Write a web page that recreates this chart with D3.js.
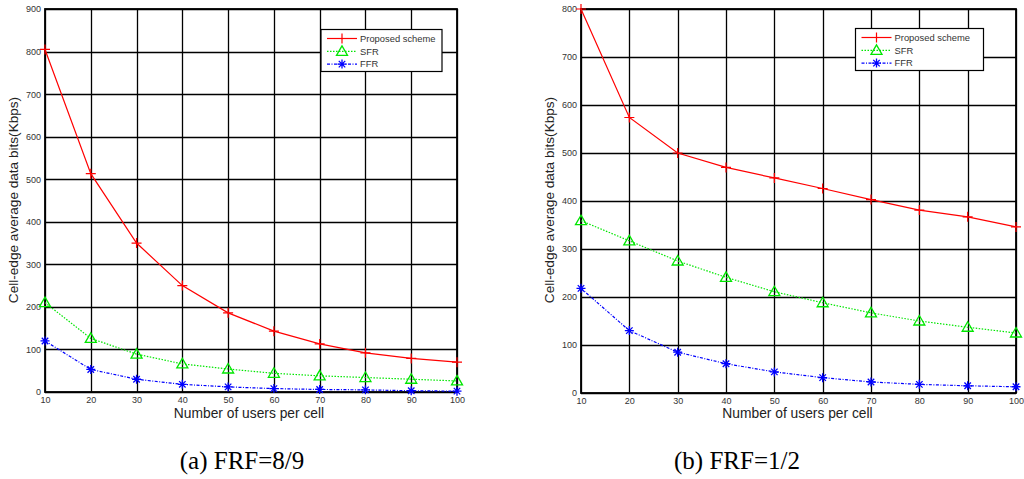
<!DOCTYPE html>
<html>
<head>
<meta charset="utf-8">
<script src="https://cdn.jsdelivr.net/npm/d3@7/dist/d3.min.js"></script>
<style>
  html, body { margin: 0; padding: 0; background: #fff; }
  svg { display: block; }
</style>
</head>
<body>
<svg id="chart" width="1024" height="479"></svg>
<script>
// ---- Data ----
const users = [10, 20, 30, 40, 50, 60, 70, 80, 90, 100];
const xTicks = [10, 20, 30, 40, 50, 60, 70, 80, 90, 100];
const seriesNames = ["Proposed scheme", "SFR", "FFR"];

// Panel (a) FRF=8/9
const proposedA = [805, 513, 350, 250, 186, 143, 113, 92, 79, 70];
const sfrA      = [210, 126, 89, 66, 54, 44, 38, 34, 30, 26];
const ffrA      = [120, 53, 30, 18, 12, 8, 6, 5, 3, 2];
const yTicksA   = [0, 100, 200, 300, 400, 500, 600, 700, 800, 900];

// Panel (b) FRF=1/2
const proposedB = [800, 574, 500, 470, 448, 426, 403, 381, 367, 346];
const sfrB      = [359, 317, 275, 241, 211, 188, 167, 150, 137, 125];
const ffrB      = [218, 130, 85, 61, 44, 32, 23, 18, 15, 13];
const yTicksB   = [0, 100, 200, 300, 400, 500, 600, 700, 800];

const captions = ["(a) FRF=8/9", "(b) FRF=1/2"];
const xLabel = "Number of users per cell";
const yLabel = "Cell-edge average data bits(Kbps)";

// ---- Drawing ----
const svg = d3.select("#chart");
const styles = [
  { color: "#ff0000", dash: null, marker: "plus" },
  { color: "#00e600", dash: "1.5,1.5", marker: "triangle" },
  { color: "#0000ff", dash: "3,1.5,1,1.5", marker: "star" }
];

function drawMarker(g, type, x, y, color) {
  if (type === "plus") {
    g.append("path").attr("d", `M${x-5},${y}H${x+5}M${x},${y-5}V${y+5}`)
      .attr("stroke", color).attr("stroke-width", 1.2).attr("fill", "none");
  } else if (type === "triangle") {
    g.append("path").attr("d", `M${x},${y-5.5}L${x+5.5},${y+4}L${x-5.5},${y+4}Z`)
      .attr("stroke", color).attr("stroke-width", 1.3).attr("fill", "none");
  } else {
    const r = 4.5, d = r * 0.72;
    g.append("path").attr("d",
      `M${x-r},${y}H${x+r}M${x},${y-r}V${y+r}M${x-d},${y-d}L${x+d},${y+d}M${x-d},${y+d}L${x+d},${y-d}`)
      .attr("stroke", color).attr("stroke-width", 1.3).attr("fill", "none");
  }
}

function panel(cfg) {
  const x = d3.scaleLinear().domain([10, 100]).range([cfg.left, cfg.right]);
  const y = d3.scaleLinear().domain([0, cfg.yMax]).range([cfg.bottom, cfg.top]);
  const g = svg.append("g");

  // grid
  const grid = g.append("g");
  grid.selectAll("line.vx").data(xTicks).enter().append("line")
    .attr("x1", d => Math.round(x(d)) + 0.5).attr("x2", d => Math.round(x(d)) + 0.5)
    .attr("y1", cfg.top).attr("y2", cfg.bottom)
    .attr("stroke", "#000").attr("stroke-width", 1.3);
  grid.selectAll("line.hy").data(cfg.yTicks).enter().append("line")
    .attr("y1", d => Math.round(y(d)) + 0.5).attr("y2", d => Math.round(y(d)) + 0.5)
    .attr("x1", cfg.left).attr("x2", cfg.right)
    .attr("stroke", "#000").attr("stroke-width", 1.3);

  // frame
  g.append("rect").attr("x", cfg.left).attr("y", cfg.top)
    .attr("width", cfg.right - cfg.left).attr("height", cfg.bottom - cfg.top)
    .attr("fill", "none").attr("stroke", "#000").attr("stroke-width", 1.8);

  // axes tick labels via d3 axes
  const xAxis = d3.axisBottom(x).tickValues(xTicks).tickSize(0).tickPadding(5);
  const yAxis = d3.axisLeft(y).tickValues(cfg.yTicks).tickSize(0).tickPadding(4);
  const gx = g.append("g").attr("transform", `translate(0,${cfg.bottom})`).call(xAxis);
  const gy = g.append("g").attr("transform", `translate(${cfg.left},0)`).call(yAxis);
  [gx, gy].forEach(a => {
    a.select(".domain").remove();
    a.selectAll("text").attr("font-family", "Liberation Sans, Arial, sans-serif")
      .attr("font-size", 9).attr("fill", "#333");
  });

  // lines
  const line = d3.line().x((d, i) => x(users[i])).y(d => y(d));
  cfg.series.forEach((vals, si) => {
    const st = styles[si];
    g.append("path").datum(vals).attr("d", line)
      .attr("fill", "none").attr("stroke", st.color).attr("stroke-width", 1.2)
      .attr("stroke-dasharray", st.dash);
    vals.forEach((v, i) => drawMarker(g, st.marker, x(users[i]), y(v), st.color));
  });

  // axis labels
  g.append("text").attr("x", (cfg.left + cfg.right) / 2 + cfg.xLabDx).attr("y", 418)
    .attr("text-anchor", "middle").attr("font-family", "Liberation Sans, Arial, sans-serif")
    .attr("font-size", 13.8).attr("fill", "#222").text(xLabel);
  g.append("text").attr("transform", `translate(${cfg.yLabX},200) rotate(-90)`)
    .attr("text-anchor", "middle").attr("font-family", "Liberation Sans, Arial, sans-serif")
    .attr("font-size", 13.6).attr("fill", "#222").text(yLabel);

  // legend
  const L = cfg.legend;
  g.append("rect").attr("x", L.x).attr("y", L.y).attr("width", L.w).attr("height", L.h)
    .attr("fill", "#fff").attr("stroke", "#000").attr("stroke-width", 1.2);
  seriesNames.forEach((name, si) => {
    const st = styles[si];
    const yy = L.y + 9 + si * 12.8;
    g.append("line").attr("x1", L.x + 6).attr("x2", L.x + 36).attr("y1", yy).attr("y2", yy)
      .attr("stroke", st.color).attr("stroke-width", 1.2).attr("stroke-dasharray", st.dash);
    drawMarker(g, st.marker, L.x + 21, yy, st.color);
    g.append("text").attr("x", L.x + 39).attr("y", yy + 3.3)
      .attr("font-family", "Liberation Sans, Arial, sans-serif").attr("font-size", 9.4)
      .attr("fill", "#333").text(name);
  });

  // caption
  g.append("text").attr("x", cfg.capX).attr("y", 469).attr("text-anchor", "middle")
    .attr("font-family", "Liberation Serif, Times New Roman, serif").attr("font-size", 25)
    .attr("fill", "#000").text(cfg.caption);
}

panel({
  left: 45, right: 457, top: 9, bottom: 392, yMax: 900, yTicks: yTicksA,
  series: [proposedA, sfrA, ffrA], yLabX: 18, xLabDx: -2,
  legend: { x: 321, y: 29.5, w: 121, h: 42 },
  caption: captions[0], capX: 242
});
panel({
  left: 581, right: 1016, top: 9, bottom: 393, yMax: 800, yTicks: yTicksB,
  series: [proposedB, sfrB, ffrB], yLabX: 554, xLabDx: -1,
  legend: { x: 855.5, y: 28.5, w: 128, h: 42 },
  caption: captions[1], capX: 737
});
</script>
</body>
</html>
